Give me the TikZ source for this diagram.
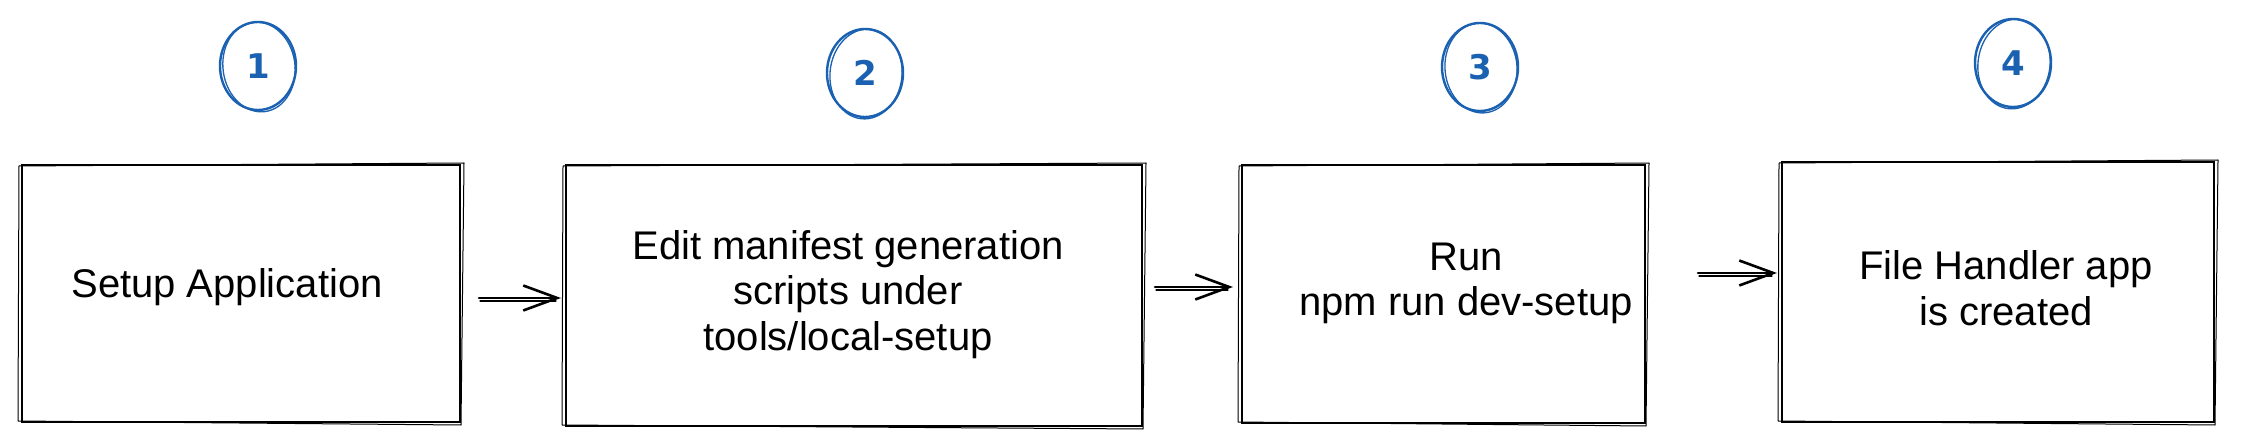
\documentclass[tikz,border=0pt]{standalone}
\usepackage{fontspec}
\setmainfont{Liberation Sans}
\newfontfamily\numfont{DejaVu Sans}
\usetikzlibrary{arrows.meta,shapes.geometric,calc}
\definecolor{numblue}{RGB}{27,97,177}
\begin{document}
\begin{tikzpicture}[x=1pt,y=-1pt,
  boxst/.style={draw=black, line width=2.2pt, inner sep=0pt, outer sep=0pt, rectangle},
  rough/.style={draw=black, line width=1pt, line cap=round, line join=round},
  txt/.style={font=\fontsize{40}{45.5}\selectfont, align=center, inner sep=0pt, anchor=base},
  numc/.style={draw=numblue, ellipse, line width=2.4pt, inner sep=0pt, outer sep=0pt,
    minimum width=76pt, minimum height=88pt, text=numblue, font=\numfont\bfseries\fontsize{34}{34}\selectfont},
  numrough/.style={draw=numblue, line width=1.3pt},
  arr/.style={line width=2.6pt, line cap=round, -{Straight Barb[length=34pt,width=25pt,line width=2.6pt]}},
  arrline/.style={line width=1.2pt, line cap=round}
]
\fill[white] (0,0) rectangle (2243,446);
\useasboundingbox (0,0) rectangle (2243,446);

% boxes
\node[boxst, minimum width=438pt, minimum height=257pt] (b1) at (241,293.5) {};
\node[boxst, minimum width=576pt, minimum height=261pt] (b2) at (854,295.5) {};
\node[boxst, minimum width=403pt, minimum height=258pt] (b3) at (1443.5,294) {};
\node[boxst, minimum width=432pt, minimum height=260pt] (b4) at (1998,292) {};

% sketchy second strokes
\foreach \b in {b1,b2,b3,b4}{
  \draw[rough] ([shift={(-3,1)}]\b.north west) -- ([shift={(4,-2)}]\b.north east)
               -- ([shift={(1,3)}]\b.south east) -- ([shift={(-4,-1)}]\b.south west) -- cycle;
}

% texts (base anchor = last line baseline)
\node[txt] (t1) at (227,298) {Setup Application};
\node[txt] (t2) at (848,350) {Edit manifest generation\\scripts under\\tools/local-setup};
\node[txt] (t3) at (1466,316) {Run\\npm run dev-setup};
\node[txt] (t4) at (2006,325) {File Handler app\\is created};

% numbered circles
\node[numc] (n1) at (258,66) {1};
\node[numc] (n2) at (865,73) {2};
\node[numc] (n3) at (1480,67) {3};
\node[numc] (n4) at (2013,63) {4};
\foreach \n/\r in {n1/8,n2/-6,n3/5,n4/-8}{
  \draw[numrough] ($(\n)+(1,1)$) ellipse [x radius=36, y radius=45, rotate=\r];
}

% arrows
\coordinate (y1) at (0,298);
\coordinate (y2) at (0,287);
\coordinate (y3) at (0,273);
\draw[arr, shorten <=19pt, shorten >=5pt] (b1.east |- y1) -- (b2.west |- y1);
\draw[arr, shorten <=13pt, shorten >=9pt] (b2.east |- y2) -- (b3.west |- y2);
\draw[arr, shorten <=53pt, shorten >=5pt] (b3.east |- y3) -- (b4.west |- y3);
\draw[arrline, shorten <=20pt, shorten >=10pt] ([yshift=-3pt]b1.east |- y1) -- ([yshift=-3pt]b2.west |- y1);
\draw[arrline, shorten <=14pt, shorten >=14pt] ([yshift=-3pt]b2.east |- y2) -- ([yshift=-3pt]b3.west |- y2);
\draw[arrline, shorten <=54pt, shorten >=10pt] ([yshift=-3pt]b3.east |- y3) -- ([yshift=-3pt]b4.west |- y3);
\end{tikzpicture}
\end{document}
